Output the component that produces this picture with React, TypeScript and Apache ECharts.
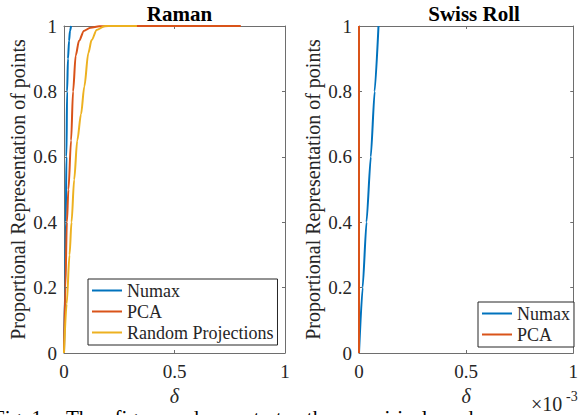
import React, { useEffect, useRef } from "react";
import * as echarts from "echarts";

// ---- data ----
const ramanNumaxX = [0, 0.005, 0.008, 0.011, 0.014, 0.018, 0.023, 0.027, 0.032];
const ramanNumaxY = [0, 0.2, 0.4, 0.6, 0.8, 0.9, 0.955, 0.985, 1];

const ramanPcaX = [0, 0.006, 0.013, 0.02, 0.032, 0.041, 0.053, 0.068, 0.09, 0.12, 0.16, 0.2, 0.8];
const ramanPcaY = [0, 0.2, 0.4, 0.5, 0.65, 0.8, 0.91, 0.955, 0.985, 0.995, 0.999, 1, 1];

const ramanRandX = [0, 0.012, 0.025, 0.034, 0.046, 0.06, 0.077, 0.092, 0.11, 0.125, 0.148, 0.185, 0.33];
const ramanRandY = [0, 0.15, 0.3, 0.4, 0.53, 0.65, 0.73, 0.815, 0.917, 0.957, 0.988, 1, 1];

const swissNumaxX = [0, 0.000017, 0.000035, 0.000055, 0.000073, 0.000091];
const swissNumaxY = [0, 0.2, 0.4, 0.6, 0.8, 1];

const swissPcaX = [0, 0];
const swissPcaY = [0, 1];

const titles = ["Raman", "Swiss Roll"];
const legendRaman = ["Numax", "PCA", "Random Projections"];
const legendSwiss = ["Numax", "PCA"];
const yAxisName = "Proportional Representation of points";
const xAxisName = "δ";
const xScaleLabel = "×10";
const xScaleExp = "-3";
const caption1 = "Fig. 1.";
const caption2 = "The   figures   demonstrate   the   empirical   and";

const COLORS = { numax: "#0072BD", pca: "#D95319", rand: "#EDB120" };
const FONT = "'Liberation Serif', 'Times New Roman', serif";
const TXT = "#262626";
const AX = "#6e6e6e";

const zip = (xs: number[], ys: number[]) => xs.map((x, i) => [x, ys[i]]);

export default function App() {
  const ref = useRef<HTMLDivElement>(null);
  useEffect(() => {
    if (!ref.current) return;
    const chart = echarts.init(ref.current, undefined, { renderer: "svg" });

    const grids = [
      { left: 64, top: 26, width: 221, height: 327 },
      { left: 359, top: 26, width: 220, height: 327 },
    ];

    const mkX = (gi: number, max: number, interval: number, bottom: boolean, fmt?: (v: number) => string) => ({
      type: "value",
      gridIndex: gi,
      position: bottom ? "bottom" : "top",
      min: 0,
      max,
      interval,
      name: bottom ? xAxisName : "",
      nameLocation: "middle",
      nameGap: 32,
      nameTextStyle: { fontFamily: FONT, fontSize: 20, fontStyle: "italic", color: TXT },
      axisLine: { show: true, onZero: false, lineStyle: { color: AX, width: 1 } },
      axisTick: { show: true, inside: true, length: 3, lineStyle: { color: AX } },
      axisLabel: bottom
        ? { show: true, margin: 9, fontFamily: FONT, fontSize: 19, color: TXT, formatter: fmt }
        : { show: false },
      splitLine: { show: false },
    });

    const mkY = (gi: number, left: boolean) => ({
      type: "value",
      gridIndex: gi,
      position: left ? "left" : "right",
      min: 0,
      max: 1,
      interval: 0.2,
      name: left ? yAxisName : "",
      nameLocation: "middle",
      nameGap: 36,
      nameTextStyle: { fontFamily: FONT, fontSize: 20, color: TXT },
      axisLine: { show: true, onZero: false, lineStyle: { color: AX, width: 1 } },
      axisTick: { show: true, inside: true, length: 3, lineStyle: { color: AX } },
      axisLabel: left
        ? { show: true, margin: 7, fontFamily: FONT, fontSize: 19, color: TXT }
        : { show: false },
      splitLine: { show: false },
    });

    const fmtSwiss = (v: number) => String(Math.round(v * 10000) / 10);

    const lineSeries = (name: string, color: string, data: number[][], gi: number, smooth: number) => ({
      type: "line",
      name,
      xAxisIndex: gi * 2,
      yAxisIndex: gi * 2,
      data,
      showSymbol: false,
      symbol: "none",
      clip: false,
      smooth,
      smoothMonotone: "x",
      lineStyle: { color, width: 2 },
      itemStyle: { color },
    });

    const legendBase = {
      orient: "vertical",
      icon: "rect",
      itemWidth: 30,
      itemHeight: 2,
      itemGap: 2,
      borderColor: TXT,
      borderWidth: 1,
      backgroundColor: "#fff",
      padding: [2, 4, 3, 4],
      textStyle: { fontFamily: FONT, fontSize: 18, color: TXT, lineHeight: 19 },
      selectedMode: false,
    };

    chart.setOption({
      animation: false,
      backgroundColor: "#fff",
      title: [
        { text: titles[0], left: 174.5, top: -2, textAlign: "center", textStyle: { fontFamily: FONT, fontSize: 21, fontWeight: "bold", color: "#000" } },
        { text: titles[1], left: 469, top: -2, textAlign: "center", textStyle: { fontFamily: FONT, fontSize: 21, fontWeight: "bold", color: "#000" } },
      ],
      grid: grids,
      xAxis: [
        mkX(0, 1, 0.5, true),
        mkX(0, 1, 0.5, false),
        mkX(1, 0.001, 0.0005, true, fmtSwiss),
        mkX(1, 0.001, 0.0005, false),
      ],
      yAxis: [mkY(0, true), mkY(0, false), mkY(1, true), mkY(1, false)],
      legend: [
        { ...legendBase, data: legendRaman, left: 88, top: 279 },
        { ...legendBase, data: legendSwiss, left: 478, top: 302 },
      ],
      series: [
        lineSeries("Numax", COLORS.numax, zip(ramanNumaxX, ramanNumaxY), 0, 0.3),
        lineSeries("PCA", COLORS.pca, zip(ramanPcaX, ramanPcaY), 0, 0.3),
        lineSeries("Random Projections", COLORS.rand, zip(ramanRandX, ramanRandY), 0, 0.3),
        lineSeries("Numax", COLORS.numax, zip(swissNumaxX, swissNumaxY), 1, 0.2),
        lineSeries("PCA", COLORS.pca, zip(swissPcaX, swissPcaY), 1, 0),
      ],
      graphic: [
        { type: "text", left: 531, top: 394, style: { text: xScaleLabel, fontFamily: FONT, fontSize: 20, fill: TXT } },
        { type: "text", left: 566, top: 389, style: { text: xScaleExp, fontFamily: FONT, fontSize: 14, fill: TXT } },
        { type: "text", x: -7, y: 407, style: { text: caption1, fontFamily: FONT, fontSize: 21, fill: "#000", textVerticalAlign: "top" } },
        { type: "text", x: 66, y: 407, style: { text: caption2, fontFamily: FONT, fontSize: 21, fill: "#000", textVerticalAlign: "top" } },
      ],
    });
    return () => chart.dispose();
  }, []);
  return (
    <div
      ref={ref}
      style={{ position: "absolute", left: 0, top: 0, width: 581, height: 415, overflow: "hidden" }}
    />
  );
}
